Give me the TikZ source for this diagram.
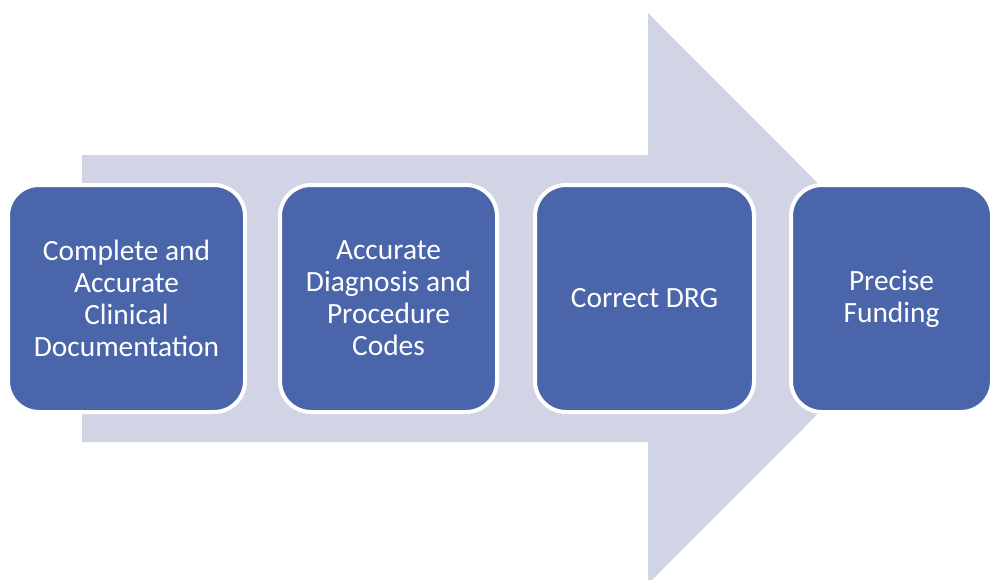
\documentclass[tikz,border=0pt]{standalone}
\usepackage{fontspec}
\setmainfont{Carlito}
\definecolor{boxblue}{HTML}{4A65AA}
\definecolor{arrowgray}{HTML}{D0D4E5}
\begin{document}
\begin{tikzpicture}[x=1pt,y=-1pt,
  stepbox/.style={rectangle, rounded corners=31pt, fill=boxblue, draw=white,
    line width=4pt, minimum height=227pt, align=center, text=white,
    font=\fontsize{29.4}{32}\selectfont, inner sep=0pt}]
\useasboundingbox (0,0) rectangle (992,579);
\clip (0,0) rectangle (992,579);
\fill[arrowgray] (82,155) -- (648,155) -- (648,13) -- (933,298.5) -- (648,584) -- (648,442) -- (82,442) -- cycle;
\node[stepbox, minimum width=237pt] (b1) at (126.5,298.5) {Complete and\\Accurate\\Clinical\\Documentation};
\node[stepbox, minimum width=217pt] (b2) at (388.5,298.5) {Accurate\\Diagnosis and\\Procedure\\Codes};
\node[stepbox, minimum width=219pt] (b3) at (644.5,298.5) {Correct DRG};
\node[stepbox, minimum width=201pt] (b4) at (891.5,298.5) {Precise\\Funding};
\end{tikzpicture}
\end{document}
